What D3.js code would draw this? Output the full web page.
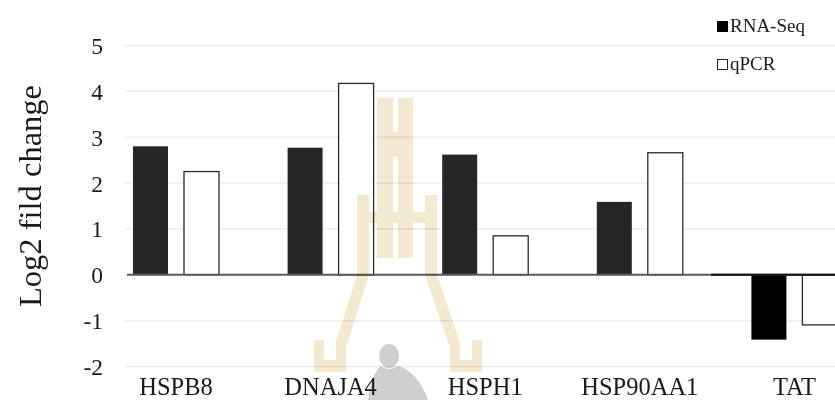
<!DOCTYPE html>
<html>
<head>
<meta charset="utf-8">
<script src="https://cdn.jsdelivr.net/npm/d3@7/dist/d3.min.js"></script>
<style>
  html, body { margin: 0; padding: 0; background: #fff; }
  svg { display: block; }
  text { font-family: "Liberation Serif", "Times New Roman", serif; fill: #1a1a1a; }
</style>
</head>
<body>
<svg id="chart" width="835" height="400"></svg>
<script>
// ---- data ----
const categories = ["HSPB8", "DNAJA4", "HSPH1", "HSP90AA1", "TAT"];
const seriesNames = ["RNA-Seq", "qPCR"];
const rnaSeq = [2.80, 2.77, 2.62, 1.59, -1.41];
const qpcr = [2.25, 4.17, 0.85, 2.66, -1.09];
const yTicks = [-2, -1, 0, 1, 2, 3, 4, 5];
const yTitle = "Log2 fild change";

// ---- layout ----
const W = 835, H = 400;
const svg = d3.select("#chart");

const y = d3.scaleLinear().domain([-2, 5]).range([366.7, 45.3]);
const x = d3.scaleBand().domain(categories).range([98.7, 871.7]).padding(0);
const xs = d3.scaleBand().domain(seriesNames).range([-43, 43]).paddingInner(0.3137);

const rows = categories.map((c, i) => ({ cat: c, values: [
  { s: "RNA-Seq", v: rnaSeq[i] },
  { s: "qPCR", v: qpcr[i] }
]}));

// gridlines
svg.append("g").selectAll("line").data(yTicks.filter(t => t !== 0)).join("line")
  .attr("x1", 125).attr("x2", W)
  .attr("y1", d => y(d)).attr("y2", d => y(d))
  .attr("stroke", "#e9e9e9").attr("stroke-width", 1.2);

// y tick labels via axis
const yAxis = svg.append("g").attr("transform", "translate(103,0)")
  .call(d3.axisLeft(y).tickValues(yTicks).tickSize(0).tickPadding(0).tickFormat(d => String(d)));
yAxis.select(".domain").remove();
yAxis.selectAll("text")
  .style("font-family", "'Liberation Serif', serif")
  .attr("font-size", 23.5).attr("fill", "#1a1a1a").attr("dy", "0.34em");

// y title
svg.append("text")
  .attr("transform", `translate(41,${(y(5) + y(-2)) / 2 - 10}) rotate(-90)`)
  .attr("text-anchor", "middle")
  .attr("font-size", 32.5)
  .text(yTitle);

// bars
const groups = svg.append("g").selectAll("g").data(rows).join("g")
  .attr("transform", d => `translate(${x(d.cat) + x.bandwidth() / 2},0)`);

groups.selectAll("rect").data(d => d.values).join("rect")
  .attr("x", d => xs(d.s))
  .attr("width", xs.bandwidth())
  .attr("y", d => y(Math.max(0, d.v)))
  .attr("height", d => Math.abs(y(d.v) - y(0)))
  .attr("fill", d => d.s === "RNA-Seq" ? (d.v < 0 ? "#000" : "#262626") : "#fff")
  .attr("stroke", d => d.s === "RNA-Seq" ? "none" : "#2a2a2a")
  .attr("stroke-width", 1.3);

// zero line
svg.append("line")
  .attr("x1", 127).attr("x2", W)
  .attr("y1", y(0)).attr("y2", y(0))
  .attr("stroke", "#5a5a5a").attr("stroke-width", 2);
svg.append("line")
  .attr("x1", x("TAT") - 6).attr("x2", W)
  .attr("y1", y(0)).attr("y2", y(0))
  .attr("stroke", "#111").attr("stroke-width", 2);

// watermark (decorative)
const wm = svg.append("g").style("mix-blend-mode", "multiply");
const tan = "#f3e8d0";
const wmShapes = [
  "M377,98 H393 V258 H377 Z",
  "M398,98 H413 V258 H398 Z",
  "M377,132 H413 V157 H377 Z",
  "M357,195 H369 V212 H398 V223 H369 V275 L347,345 H335 L357,275 Z",
  "M425,195 H437 V275 L461,345 H449 L425,275 V223 H398 V212 H425 Z",
  "M314,340 H324 V360 H336 V340 H346 V372 H314 Z",
  "M450,340 H460 V360 H472 V340 H482 V372 H450 Z"
];
wm.selectAll("path").data(wmShapes).join("path").attr("d", d => d).attr("fill", tan);
const person = svg.append("g").attr("fill", "#cfcfcf").style("mix-blend-mode", "multiply");
person.append("ellipse").attr("cx", 389).attr("cy", 356).attr("rx", 10).attr("ry", 12);
person.append("path").attr("d", "M380,366 Q389,372 398,366 Q418,372 428,400 H368 Q370,378 380,366 Z");

// x labels
svg.append("g").selectAll("text").data(categories).join("text")
  .attr("x", d => x(d) + x.bandwidth() / 2)
  .attr("y", 395)
  .attr("text-anchor", "middle")
  .attr("font-size", 24.5)
  .text(d => d);

// legend
const legend = svg.append("g");
seriesNames.forEach((s, i) => {
  const gy = 21 + i * 38;
  legend.append("rect")
    .attr("x", s === "RNA-Seq" ? 717 : 717.5).attr("y", gy + (i ? 0.5 : 0))
    .attr("width", s === "RNA-Seq" ? 11 : 10).attr("height", s === "RNA-Seq" ? 11 : 10)
    .attr("fill", s === "RNA-Seq" ? "#000" : "#fff")
    .attr("stroke", s === "RNA-Seq" ? "none" : "#222").attr("stroke-width", 1);
  legend.append("text")
    .attr("x", 730).attr("y", gy + 11)
    .attr("font-size", 19)
    .text(s);
});
</script>
</body>
</html>
